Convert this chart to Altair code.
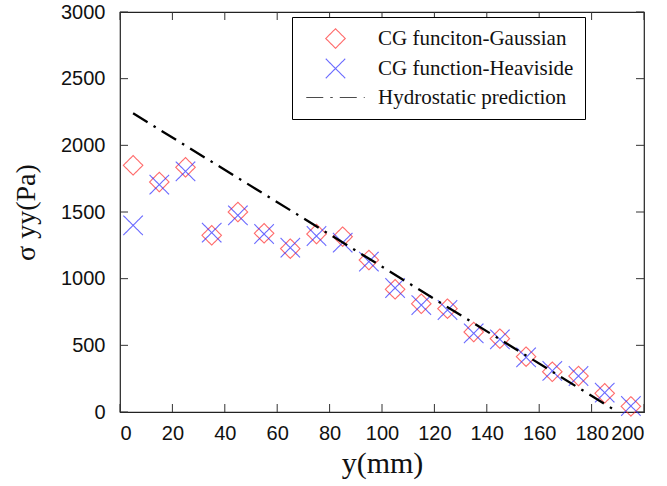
import altair as alt
import pandas as pd

# ---- data ----
x_pos = [5, 15, 25, 35, 45, 55, 65, 75, 85, 95, 105, 115, 125, 135, 145, 155, 165, 175, 185, 195]
gauss = [1850, 1725, 1835, 1325, 1500, 1340, 1225, 1335, 1315, 1140, 920, 812, 775, 600, 550, 415, 302, 270, 140, 42]
heavi = [1400, 1705, 1805, 1345, 1475, 1335, 1232, 1320, 1270, 1128, 930, 802, 765, 590, 545, 410, 308, 270, 145, 45]
hydro_x = [5, 190]
hydro_y = [2240, 0]
series = ["CG funciton-Gaussian", "CG function-Heaviside", "Hydrostatic prediction"]
x_ticks = list(range(0, 201, 20))
y_ticks = list(range(0, 3001, 500))

df_g = pd.DataFrame({"x": x_pos, "y": gauss, "s": series[0]})
df_h = pd.DataFrame({"x": x_pos, "y": heavi, "s": series[1]})
df_l = pd.DataFrame({"x": hydro_x, "y": hydro_y, "s": series[2]})
df_xt = pd.DataFrame({"t": x_ticks})
df_yt = pd.DataFrame({"t": y_ticks})

W, H = 524, 400
TL = 8  # inward tick length
SANS = "Liberation Sans"
SERIF = "Liberation Serif"

xs = alt.Scale(domain=[0, 200], nice=False)
ys = alt.Scale(domain=[0, 3000], nice=False)

legend = alt.Legend(
    orient="none", legendX=172, legendY=5, title=None,
    strokeColor="black", fillColor="white", padding=11,
    symbolOffset=22, labelOffset=32, rowPadding=5,
    labelFont=SERIF, labelFontSize=21, labelColor="#111", labelLimit=400,
    symbolSize=380, cornerRadius=0,
)

color = alt.Color("s:N", scale=alt.Scale(domain=series, range=["#ff2a2a", "#2a2aff", "black"]), legend=legend)
shape = alt.Shape("s:N", scale=alt.Scale(domain=series, range=["diamond", "M-1,-1L1,1M-1,1L1,-1", "M-3,0L3,0"]), legend=legend)
dash = alt.StrokeDash("s:N", scale=alt.Scale(domain=series, range=[[1, 0], [1, 0], [17, 7, 2.5, 7]]), legend=legend)
sw = alt.StrokeWidth("s:O", scale=alt.Scale(domain=series, range=[1.1, 1.1, 2.3]), legend=legend)

ax_x_main = alt.Axis(orient="bottom", values=x_ticks, ticks=False, domain=False, grid=False,
                     labelPadding=11, labelFont=SANS, labelFontSize=20, labelColor="#111",
                     title="y(mm)", titleFont=SERIF, titleFontSize=30, titleFontWeight="normal",
                     titleColor="#111", titlePadding=5)
ax_y_main = alt.Axis(orient="left", values=y_ticks, format="d", ticks=False, domain=False, grid=False,
                     labelPadding=15, labelFont=SANS, labelFontSize=20, labelColor="#111",
                     title="σ yy(Pa)", titleFont=SERIF, titleFontSize=28, titleFontWeight="normal",
                     titleColor="#111", titlePadding=20)

g = alt.Chart(df_g).mark_point(filled=False, size=380).encode(
    x=alt.X("x:Q", scale=xs, axis=ax_x_main),
    y=alt.Y("y:Q", scale=ys, axis=ax_y_main),
    color=color, shape=shape, strokeDash=dash, strokeWidth=sw,
)
h = alt.Chart(df_h).mark_point(filled=False, size=380).encode(
    x=alt.X("x:Q", scale=xs),
    y=alt.Y("y:Q", scale=ys),
    color=color, shape=shape, strokeDash=dash, strokeWidth=sw,
)
ln = alt.Chart(df_l).mark_line(clip=True, strokeWidth=2.3).encode(
    x=alt.X("x:Q", scale=xs),
    y=alt.Y("y:Q", scale=ys),
    color=color, strokeDash=dash,
)

tick_style = dict(color="#333", strokeWidth=1)
xt_bottom = alt.Chart(df_xt).mark_rule(**tick_style).encode(
    x=alt.X("t:Q", scale=xs), y=alt.value(H), y2=alt.value(H - TL))
xt_top = alt.Chart(df_xt).mark_rule(**tick_style).encode(
    x=alt.X("t:Q", scale=xs), y=alt.value(0), y2=alt.value(TL))
yt_left = alt.Chart(df_yt).mark_rule(**tick_style).encode(
    y=alt.Y("t:Q", scale=ys), x=alt.value(0), x2=alt.value(TL))
yt_right = alt.Chart(df_yt).mark_rule(**tick_style).encode(
    y=alt.Y("t:Q", scale=ys), x=alt.value(W - TL), x2=alt.value(W))

chart = alt.layer(xt_bottom, xt_top, yt_left, yt_right, g, h, ln).properties(
    width=W, height=H,
    autosize=alt.AutoSizeParams(type="none"),
    padding={"left": 120, "top": 12, "right": 23, "bottom": 74},
    background="white",
).configure_view(stroke="#222", strokeWidth=1.2)

chart.save("out.html", embed_options={"renderer": "svg", "actions": False})
